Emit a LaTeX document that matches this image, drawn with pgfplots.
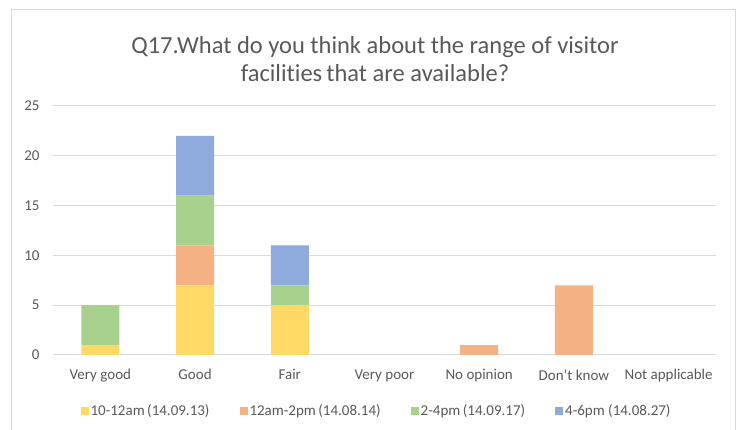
\documentclass[border=0pt]{standalone}
\usepackage{pgfplots}
\pgfplotsset{compat=1.18}
\usepackage{fontspec}
\setmainfont{Carlito}[Ligatures=NoCommon]
\definecolor{cY}{HTML}{FFD966}
\definecolor{cO}{HTML}{F4B183}
\definecolor{cG}{HTML}{A9D18E}
\definecolor{cB}{HTML}{8FAADC}
\definecolor{textC}{HTML}{595959}
\definecolor{gridC}{HTML}{D9D9D9}
\definecolor{frameC}{HTML}{D9D9D9}
\begin{document}
\begin{tikzpicture}[x=1pt,y=1pt]
\useasboundingbox (0,0) rectangle (740,430);
\draw[frameC, line width=1pt] (11,0)--(11,420)--(735,420)--(735,0);
\node[text=textC, font=\fontsize{24.5}{28}\selectfont, align=center] at (375,371)
  {Q17.What do you think about the range of visitor\\facilities\,that are available?};
\begin{axis}[
  at={(53pt,75pt)}, anchor=south west, scale only axis,
  width=663pt, height=249pt,
  ybar stacked, bar width=38pt,
  ymin=0, ymax=25, xmin=-0.5, xmax=6.5,
  xtick={0,1,2,3,4,5,6},
  xticklabels={Very good,Good,Fair,Very poor,No opinion,Don't know,Not applicable},
  ytick={0,5,10,15,20,25},
  ymajorgrids, grid style={gridC, line width=1pt},
  axis line style={draw=none},
  major tick length=0pt,
  tick label style={text=textC, font=\fontsize{15}{17}\selectfont},
  /pgf/number format/assume math mode=true,
  yticklabel style={xshift=-10pt},
  xticklabel style={yshift=-11pt},
  legend style={draw=none, fill=none, at={(0.488,-0.224)}, anchor=center,
    legend columns=4, font=\fontsize{15}{17}\selectfont, text=textC,
    /tikz/every even column/.append style={column sep=28pt}},
  legend image code/.code={\fill[#1] (-3pt,-4pt) rectangle (5pt,4pt);},
  every axis plot/.append style={draw=none},
]
\addplot[fill=cY] coordinates {(0,1)(1,7)(2,5)(3,0)(4,0)(5,0)(6,0)};
\addplot[fill=cO] coordinates {(0,0)(1,4)(2,0)(3,0)(4,1)(5,7)(6,0)};
\addplot[fill=cG] coordinates {(0,4)(1,5)(2,2)(3,0)(4,0)(5,0)(6,0)};
\addplot[fill=cB] coordinates {(0,0)(1,6)(2,4)(3,0)(4,0)(5,0)(6,0)};
\legend{10-12am\,(14.09.13),12am-2pm\,(14.08.14),2-4pm\,(14.09.17),4-6pm (14.08.27)}
\end{axis}
\end{tikzpicture}
\end{document}
